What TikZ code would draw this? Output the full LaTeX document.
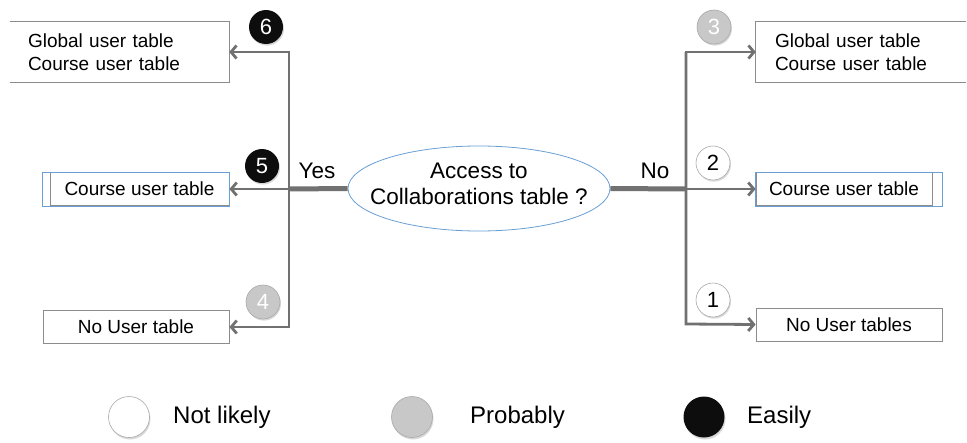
\documentclass[tikz,border=0pt]{standalone}
\usepackage{fontspec}
\setmainfont{Liberation Sans}
\usetikzlibrary{arrows.meta,shadows,shapes.geometric}
\definecolor{linegray}{HTML}{717171}
\definecolor{boxgray}{HTML}{8C8C8C}
\definecolor{bluel}{HTML}{6A9FD4}
\definecolor{midgray}{HTML}{C8C8C8}
\definecolor{rimgray}{HTML}{A8A8A8}
\definecolor{blk}{HTML}{0D0D0D}
\begin{document}
\begin{tikzpicture}[x=1pt,y=-1pt,
  conn/.style={draw=linegray, line width=2.8pt},
  thickconn/.style={draw=linegray, line width=5pt},
  arr/.style={conn, -{Straight Barb[length=5.5pt,width=13pt]}},
  boxtxt/.style={font=\fontsize{19}{23}\selectfont, inner sep=0pt},
  tbox/.style={boxtxt, minimum height=33pt, draw=boxgray, line width=0.8pt},
  badge/.style={circle, minimum size=34pt, inner sep=0pt, font=\fontsize{22}{22}\selectfont,
    drop shadow={opacity=0.3, shadow xshift=1pt, shadow yshift=-1.6pt}},
  bblack/.style={badge, fill=blk, text=white},
  bgray/.style={badge, fill=midgray, draw=rimgray, line width=0.6pt, text=white},
  bwhite/.style={badge, fill=white, draw=rimgray, line width=0.6pt, text=black},
  lbl/.style={font=\fontsize{22.5}{26}\selectfont, inner sep=0pt},
  legtxt/.style={font=\fontsize{24}{28}\selectfont, inner sep=0pt, anchor=west},
  legc/.style={circle, minimum size=41pt, inner sep=0pt,
    drop shadow={opacity=0.3, shadow xshift=1pt, shadow yshift=-2pt}}
]
\useasboundingbox (0,0) rectangle (967,442);

% central question
\node[ellipse, draw=bluel, line width=0.8pt, fill=white, minimum width=262pt, minimum height=85pt,
  inner sep=0pt] (q) at (479,188.5) {};
\node[align=center, inner sep=0pt, font=\fontsize{22.5}{26}\selectfont] (qt) at (479,184)
  {Access to\\Collaborations table ?};

% junction coordinates
\coordinate (L)  at (289,189);
\coordinate (LT) at (289,52);
\coordinate (LB) at (289,327);
\coordinate (R)  at (686,189);
\coordinate (RT) at (686,52);
\coordinate (RB) at (686,324);

% left boxes
\node[boxtxt, minimum width=219pt, minimum height=60pt, text width=183pt, align=left,
  inner xsep=18pt] (gl) at (119.5,52) {Global user table\\Course user table};
\draw[boxgray, line width=0.8pt] (gl.north west) -- (gl.north east) -- (gl.south east) -- (gl.south west);
\node[tbox, minimum width=179pt] (cl) at (139.5,189) {Course user table};
\draw[bluel, line width=0.8pt] ([xshift=-7pt]cl.north west) rectangle (cl.south east);
\node[tbox, minimum width=186pt] (nl) at (136,327) {No User table};

% right boxes
\node[boxtxt, minimum width=210pt, minimum height=60pt, text width=172pt, align=left,
  inner xsep=19pt] (gr) at (861,52) {Global user table\\Course user table};
\draw[boxgray, line width=0.8pt] (gr.north east) -- (gr.north west) -- (gr.south west) -- (gr.south east);
\node[tbox, minimum width=176pt] (cr) at (844,189) {Course user table};
\draw[bluel, line width=0.8pt] (cr.north west) rectangle ([xshift=10pt]cr.south east);
\node[tbox, minimum width=186pt] (nr) at (849,324.5) {No User tables};

% connectors
\draw[thickconn] (q.west) -- (L);
\draw[thickconn] (q.east) -- (R);
\draw[arr] (LB) -- (LT) -- (gl.east);
\draw[arr] (LT) -- (LB) -- (nl.east);
\draw[arr] (L) -- (cl.east);
\draw[arr] (RB) -- (RT) -- (gr.west);
\draw[arr] (RT) -- (RB) -- (nr.west);
\draw[arr] (R) -- (cr.west);

% labels
\node[lbl] (yes) at (317,171) {Yes};
\node[lbl] (no) at (655,171) {No};

% badges
\node[bblack] (b6) at (266,27) {6};
\node[bblack] (b5) at (262,166) {5};
\node[bgray]  (b4) at (263,302) {4};
\node[bgray]  (b3) at (714,27) {3};
\node[bwhite] (b2) at (713,163) {2};
\node[bwhite] (b1) at (713,300) {1};

% legend
\node[legc, fill=white, draw=rimgray, line width=0.6pt] (c1) at (129,417) {};
\node[legtxt] (t1) at (173,417) {Not likely};
\node[legc, fill=midgray, draw=rimgray, line width=0.6pt] (c2) at (412,417) {};
\node[legtxt] (t2) at (470,417) {Probably};
\node[legc, fill=blk] (c3) at (704,417) {};
\node[legtxt] (t3) at (747,417) {Easily};
\end{tikzpicture}
\end{document}
